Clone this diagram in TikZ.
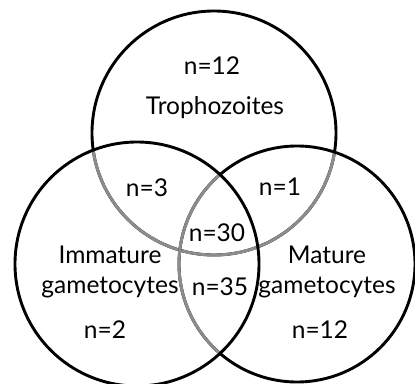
\documentclass[tikz,border=0pt]{standalone}
\usepackage{fontspec}
\setmainfont{Lato}
\begin{document}
\begin{tikzpicture}[x=1pt,y=-1pt,
    ring/.style={draw=black,line width=2.9pt},
    inner ring/.style={draw=black!45,line width=2.9pt},
    lbl/.style={font=\fontsize{24.5}{30}\selectfont,inner sep=0pt,align=center}]
  \useasboundingbox (0,0) rectangle (415,383);
  \coordinate (tro) at (214,133);
  \coordinate (imm) at (137,264);
  \coordinate (mat) at (297,264);
  % top circle, grey where it runs inside the others
  \draw[ring] (tro) circle[radius=122pt];
  \begin{scope}
    \clip (imm) circle[radius=122pt] (mat) circle[radius=118pt];
    \draw[inner ring] (tro) circle[radius=122pt];
  \end{scope}
  % right circle
  \draw[ring] (mat) circle[radius=118pt];
  \begin{scope}
    \clip (imm) circle[radius=122pt];
    \draw[inner ring] (mat) circle[radius=118pt];
  \end{scope}
  % left circle on top
  \draw[ring] (imm) circle[radius=122pt];
  % labels
  \node[lbl] (ntro) at (212,66) {n=12};
  \node[lbl] (ttro) at (215,108) {Trophozoites};
  \node[lbl] (nti) at (147,188) {n=3};
  \node[lbl] (ntm) at (280,187) {n=1};
  \node[lbl] (nall) at (217,233) {n=30};
  \node[lbl] (timm) at (110,272) {Immature\\gametocytes};
  \node[lbl] (nim) at (220,287) {n=35};
  \node[lbl] (tmat) at (327,272) {Mature\\gametocytes};
  \node[lbl] (nimm) at (105,330) {n=2};
  \node[lbl] (nmat) at (320,330) {n=12};
\end{tikzpicture}
\end{document}
